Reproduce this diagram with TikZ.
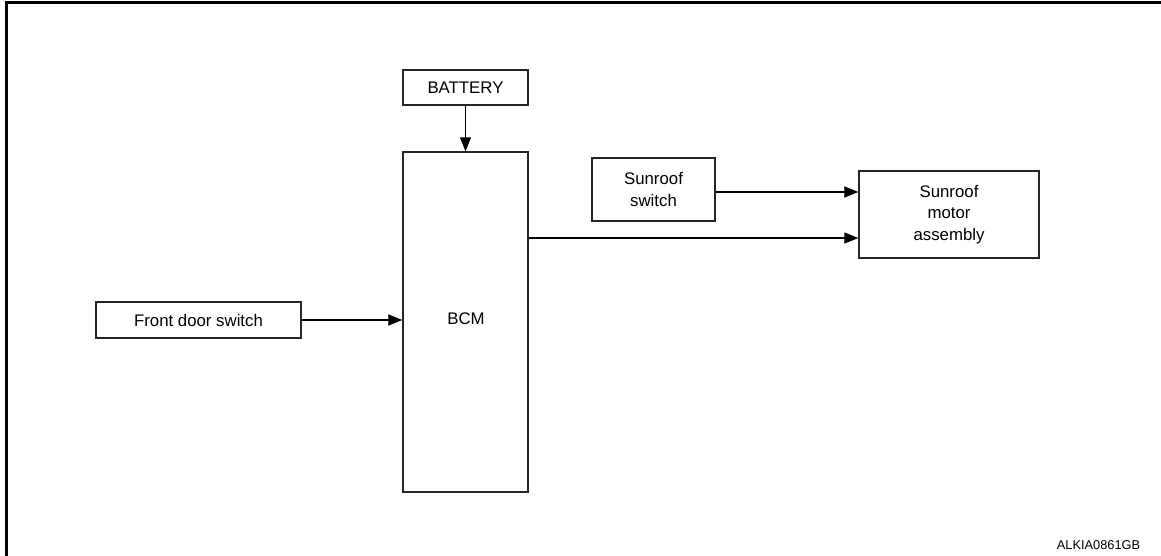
\documentclass[tikz,border=0pt]{standalone}
\usepackage{fontspec}
\setmainfont{Liberation Sans}
\usetikzlibrary{arrows.meta}
\begin{document}
\begin{tikzpicture}[x=1pt,y=-1pt,
  blk/.style={draw=black!85,line width=1.3pt,inner sep=0pt,align=center,
    font=\fontsize{16.8}{21.5}\selectfont},
  conn/.style={line width=1.1pt,-{Triangle[length=14pt,width=11pt]}}]
\useasboundingbox (0,0) rectangle (1161,556);
\draw[line width=3.5pt] (6.5,556) coordinate (fl) -- (6.5,2.5) coordinate (fc) -- (1161,2.5) coordinate (fr);
\node[blk,minimum width=125pt,minimum height=35pt] (bat) at (465.5,87.5) {BATTERY};
\node[blk,minimum width=125pt,minimum height=340pt] (bcm) at (465.5,322) {};
\node[font=\fontsize{16.8}{21.5}\selectfont] (bcmt) at (466,319) {BCM};
\node[blk,minimum width=205pt,minimum height=36pt] (fds) at (198.5,320) {Front door switch};
\node[blk,minimum width=123pt,minimum height=63pt] (ss) at (653.5,189.5) {Sunroof\\switch};
\node[blk,minimum width=180pt,minimum height=87pt] (sm) at (949,214.5) {Sunroof\\motor\\assembly};
\node[font=\fontsize{12.8}{14}\selectfont,anchor=base] (code) at (1098.5,549) {ALKIA0861GB};
\draw[conn] (bat.south) -- (bcm.north);
\draw[conn] (fds.east) -- (fds.east -| bcm.west);
\draw[conn] (ss.east |- 0,192) coordinate (s1) -- (s1 -| sm.west);
\draw[conn] (bcm.east |- 0,238) coordinate (s2) -- (s2 -| sm.west);
\end{tikzpicture}
\end{document}
